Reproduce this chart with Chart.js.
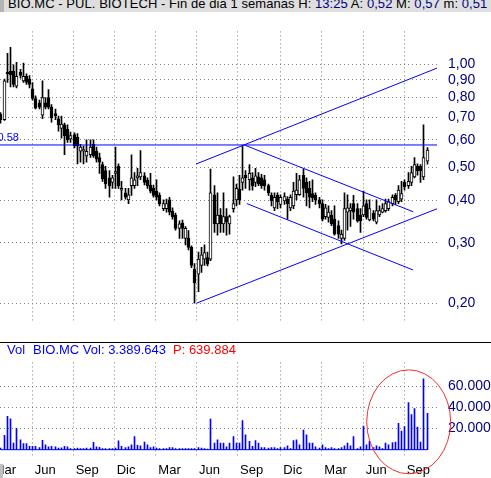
<!DOCTYPE html>
<html>
<head>
<meta charset="utf-8">
<script src="https://cdn.jsdelivr.net/npm/chart.js@4.4.1/dist/chart.umd.min.js"></script>
<style>
  html, body { margin: 0; padding: 0; background: #fff; }
  #wrap { position: relative; width: 491px; height: 478px; overflow: hidden; font-family: "Liberation Sans", Arial, sans-serif; }
  #title { position: absolute; left: 0; top: 0; width: 491px; height: 12px; background: #dedede; overflow: hidden; }
  #title .strip { position: absolute; left: 0; top: 0; width: 4px; height: 12px; background: #b4b4b4; }
  #title .txt { position: absolute; left: 8px; top: -4px; font-size: 13px; line-height: 16px; letter-spacing: 0.06px; color: #000; white-space: pre; }
  #title .v { color: #000080; }
  #price { position: absolute; left: 0; top: 12px; }
  #sep { position: absolute; left: 0; top: 342px; width: 491px; height: 1px; background: #000; }
  #vol { position: absolute; left: 0; top: 343px; }
  #volLabel { position: absolute; left: 0; top: 342px; width: 300px; height: 16px; font-size: 13px; line-height: 15px; white-space: pre; }
  #volLabel span { position: absolute; top: 0; }
  #corner { position: absolute; left: 0; top: 464px; width: 3px; height: 14px; background: #c0c0c0; }
</style>
</head>
<body>
<div id="wrap">
  <div id="title"><div class="strip"></div><div class="txt">BIO.MC - PUL. BIOTECH - Fin de dia 1 semanas H: <span class="v" id="tH"></span> A: <span class="v" id="tA"></span> M: <span class="v" id="tM"></span> m: <span class="v" id="tm"></span></div></div>
  <canvas id="price" width="491" height="330"></canvas>
  <div id="sep"></div>
  <canvas id="vol" width="491" height="135"></canvas>
  <div id="volLabel"><span style="left:7px;color:#0000ff">Vol</span><span style="left:33px;color:#0000ff" id="vName"></span><span style="left:173px;color:#ff0000" id="vP"></span></div>
  <div id="corner"></div>
</div>
<script>
// Weekly candles, BIO.MC (weeks numbered from the first bar)
const open = [
  0.713,0.688,0.948,0.954,0.954,0.862,0.948,0.893,0.920,0.904,
  0.847,0.793,0.770,0.709,0.770,0.798,0.748,0.717,0.692,0.648,
  0.664,0.645,0.604,0.622,0.611,0.556,0.556,0.539,0.543,0.583,
  0.556,0.533,0.508,0.488,0.465,0.451,0.479,0.502,0.428,0.420,
  0.401,0.441,0.441,0.465,0.468,0.471,0.457,0.443,0.433,0.425,
  0.413,0.378,0.378,0.401,0.371,0.362,0.331,0.343,0.309,0.310,
  0.291,0.251,0.243,0.258,0.269,0.272,0.269,0.415,0.341,0.362,
  0.341,0.358,0.341,0.378,0.401,0.430,0.451,0.473,0.459,0.465,
  0.451,0.468,0.465,0.459,0.441,0.413,0.380,0.413,0.389,0.398,
  0.403,0.380,0.385,0.415,0.415,0.473,0.451,0.433,0.418,0.413,
  0.401,0.391,0.358,0.356,0.362,0.352,0.337,0.309,0.309,0.369,
  0.373,0.391,0.378,0.362,0.362,0.391,0.350,0.367,0.345,0.362,
  0.369,0.373,0.378,0.391,0.413,0.396,0.403,0.451,0.441,0.451,
  0.468,0.502,0.502,0.468,0.520
];
const high = [
  0.721,0.904,1.074,1.119,0.994,1.012,0.965,1.006,0.937,0.926,
  0.883,0.808,0.784,0.893,0.798,0.842,0.761,0.739,0.705,0.705,
  0.672,0.664,0.633,0.629,0.626,0.583,0.576,0.600,0.600,0.600,
  0.572,0.549,0.517,0.502,0.488,0.473,0.572,0.511,0.454,0.433,
  0.433,0.543,0.482,0.496,0.559,0.482,0.465,0.479,0.443,0.459,
  0.420,0.401,0.403,0.408,0.380,0.367,0.348,0.350,0.335,0.326,
  0.294,0.261,0.282,0.291,0.296,0.282,0.493,0.441,0.420,0.378,
  0.420,0.378,0.362,0.468,0.446,0.473,0.580,0.488,0.508,0.482,
  0.496,0.482,0.476,0.473,0.446,0.420,0.420,0.420,0.415,0.420,
  0.410,0.415,0.451,0.479,0.473,0.493,0.465,0.454,0.459,0.420,
  0.408,0.401,0.389,0.385,0.373,0.385,0.348,0.327,0.420,0.415,
  0.391,0.413,0.391,0.378,0.425,0.401,0.401,0.373,0.401,0.385,
  0.391,0.403,0.403,0.415,0.418,0.441,0.454,0.459,0.482,0.502,
  0.533,0.511,0.508,0.664,0.570
];
const low = [
  0.672,0.684,0.883,0.857,0.857,0.852,0.909,0.883,0.872,0.852,
  0.784,0.739,0.739,0.692,0.739,0.739,0.676,0.688,0.637,0.607,
  0.543,0.590,0.590,0.569,0.511,0.517,0.511,0.517,0.533,0.533,
  0.517,0.479,0.454,0.433,0.408,0.433,0.433,0.433,0.401,0.403,
  0.391,0.413,0.433,0.441,0.459,0.443,0.433,0.420,0.408,0.401,
  0.385,0.373,0.369,0.362,0.352,0.327,0.309,0.309,0.296,0.286,
  0.254,0.200,0.216,0.246,0.258,0.257,0.266,0.322,0.316,0.322,
  0.322,0.316,0.318,0.369,0.385,0.389,0.428,0.433,0.428,0.428,
  0.438,0.441,0.433,0.428,0.413,0.385,0.373,0.378,0.380,0.389,
  0.352,0.373,0.378,0.401,0.413,0.408,0.385,0.380,0.396,0.389,
  0.380,0.348,0.352,0.345,0.337,0.316,0.309,0.298,0.305,0.327,
  0.335,0.352,0.345,0.322,0.358,0.352,0.348,0.348,0.341,0.358,
  0.367,0.369,0.373,0.385,0.389,0.391,0.396,0.428,0.433,0.441,
  0.465,0.473,0.451,0.459,0.510
];
const close = [
  0.688,0.893,0.937,0.931,0.872,0.920,0.926,0.920,0.883,0.872,
  0.793,0.743,0.748,0.798,0.748,0.748,0.696,0.705,0.664,0.668,
  0.618,0.600,0.618,0.576,0.576,0.572,0.562,0.556,0.572,0.539,
  0.527,0.517,0.462,0.446,0.441,0.465,0.485,0.441,0.433,0.408,
  0.415,0.465,0.459,0.471,0.482,0.451,0.441,0.425,0.413,0.408,
  0.391,0.391,0.391,0.369,0.358,0.331,0.341,0.331,0.331,0.291,
  0.258,0.229,0.269,0.277,0.281,0.260,0.420,0.341,0.362,0.341,
  0.358,0.345,0.358,0.391,0.433,0.401,0.465,0.465,0.479,0.441,
  0.471,0.446,0.441,0.441,0.420,0.398,0.408,0.396,0.408,0.410,
  0.391,0.408,0.425,0.428,0.459,0.433,0.420,0.408,0.406,0.401,
  0.391,0.352,0.380,0.369,0.341,0.318,0.318,0.318,0.378,0.380,
  0.380,0.369,0.348,0.348,0.385,0.356,0.378,0.352,0.373,0.373,
  0.378,0.391,0.396,0.408,0.401,0.428,0.418,0.438,0.454,0.482,
  0.508,0.488,0.488,0.533,0.560
];
const volume = [
  1500,13500,31500,29100,6200,20300,9400,5700,5700,3100,
  3100,3100,2100,8800,4700,2600,3100,2600,1600,1800,
  3100,2600,1000,1000,1600,1000,1000,1600,1600,7000,
  2600,2300,1000,1000,1000,1000,1600,8300,3100,2100,
  2600,4700,12500,4200,3600,7300,4700,2100,2600,1600,
  1000,1000,1000,2100,2100,1000,1000,1000,1000,1000,
  1000,1000,2100,1600,1000,600,28900,6200,9400,6200,
  6200,2600,6200,12500,6200,6200,27600,14000,7800,3100,
  8600,6200,2100,2100,1600,2100,2100,1000,2100,2100,
  3600,1000,8600,9400,4700,18500,14000,6200,6200,2600,
  1600,4700,2100,1000,2100,1000,1000,2100,3600,6200,
  3600,12500,1000,2600,22400,4700,7800,2100,3600,2600,
  1000,6200,4700,6800,7300,25000,17700,21800,44500,33300,
  39000,21300,7300,67100,34300
];

// Calendar: quarter starts expressed in weeks, with their month names
const quarterWeeks  = [-3.1, 9.8, 22.7, 35.6, 48.7, 61.5, 74.4, 88.0, 100.9, 113.9, 126.8];
const quarterLabels = ['Mar','Jun','Sep','Dic','Mar','Jun','Sep','Dic','Mar','Jun','Sep'];

// Axis ticks
const priceTicks = [0.2, 0.3, 0.4, 0.5, 0.6, 0.7, 0.8, 0.9, 1.0];
const volumeTicks = [20000, 40000, 60000];

// Drawn studies: [week, price] end points
const resistance   = 0.58;
const channelUpper = [[61.3, 0.510], [137.1, 0.973]];
const channelLower = [[61.5, 0.200], [137.1, 0.3775]];
const wedgeUpper   = [[76.5, 0.580], [129.6, 0.370]];
const wedgeLower   = [[77.3, 0.391], [129.6, 0.250]];

// Highlight ring on the volume pane: week span and volume span
const ringWeeks  = [115.0, 141.4];
const ringVolume = [-22800, 75500];

// Header texts
const quoteTime = '13:25';
const volName = 'BIO.MC Vol: 3.389.643';
const volP = 'P: 639.884';

const N = open.length;
const weeks = open.map((_, i) => i);
const xMin = -0.31, xMax = 137.1;
const priceMin = 0.17547, priceMax = 1.2458;
const volMin = -7864, volMax = 82566;

const fmtPrice = v => v.toFixed(2).replace('.', ',');
const fmtVol = v => String(Math.round(v)).replace(/\B(?=(\d{3})+(?!\d))/g, '.');

const last = N - 1;
document.getElementById('tH').textContent = quoteTime;
document.getElementById('tA').textContent = fmtPrice(open[last]);
document.getElementById('tM').textContent = fmtPrice(high[last]);
document.getElementById('tm').textContent = fmtPrice(low[last]);
document.getElementById('vName').textContent = volName;
document.getElementById('vP').textContent = volP;

Chart.defaults.font.family = '"Liberation Sans", Arial, sans-serif';

const GRID = '#808080';
const BLUE = '#0000ff';

const segment = (pts) => ({
  type: 'line',
  data: pts.map(([x, y]) => ({ x, y })),
  borderColor: BLUE,
  borderWidth: 1,
  pointRadius: 0,
  tension: 0,
  fill: false,
  order: 0
});

const quarterAxis = (showLabels) => ({
  type: 'linear',
  min: xMin,
  max: xMax,
  offset: false,
  grid: { color: GRID, drawTicks: false, offset: false },
  border: { display: false, dash: [1, 3] },
  afterBuildTicks: s => { s.ticks = quarterWeeks.map(v => ({ value: v })); },
  ticks: {
    display: showLabels,
    autoSkip: false,
    maxRotation: 0,
    align: 'start',
    labelOffset: 2.5,
    padding: 5,
    color: '#000',
    font: { size: 13 },
    callback: (v, i) => quarterLabels[i]
  },
  afterFit: s => {
    // keep the plot flush with the canvas edges; labels may run past them
    s.height = showLabels ? 20 : 0;
    s.paddingLeft = 0;
    s.paddingRight = 0;
  }
});

// Put thin bars on whole pixel columns so candles and volume stay sharp
const crispBars = {
  id: 'crispBars',
  beforeDatasetsDraw(chart) {
    chart.data.datasets.forEach((ds, di) => {
      const meta = chart.getDatasetMeta(di);
      if (meta.type !== 'bar') return;
      meta.data.forEach(el => { el.x = Math.floor(el.x) + 0.5; });
    });
  }
};

// Label for the horizontal resistance line
const levelLabel = {
  id: 'levelLabel',
  afterDatasetsDraw(chart) {
    const { ctx, chartArea, scales } = chart;
    const y = scales.y.getPixelForValue(resistance);
    ctx.save();
    ctx.font = '11px "Liberation Sans", Arial, sans-serif';
    ctx.fillStyle = BLUE;
    ctx.textAlign = 'left';
    ctx.textBaseline = 'alphabetic';
    ctx.fillText(resistance.toFixed(2), chartArea.left - 2.5, y - 4);
    ctx.restore();
  }
};

new Chart(document.getElementById('price'), {
  type: 'bar',
  data: {
    datasets: [
      segment(channelUpper),
      segment(channelLower),
      segment(wedgeUpper),
      segment(wedgeLower),
      segment([[xMin, resistance], [xMax, resistance]]),
      {
        label: 'cuerpo',
        data: weeks.map(i => ({ x: i, y: [open[i], close[i]] })),
        backgroundColor: weeks.map(i => close[i] >= open[i] ? '#ffffff' : '#000000'),
        borderColor: '#000000',
        borderWidth: 1,
        borderSkipped: false,
        barThickness: 3,
        grouped: false,
        order: 1
      },
      {
        label: 'mecha',
        data: weeks.map(i => ({ x: i, y: [low[i], high[i]] })),
        backgroundColor: '#000000',
        borderWidth: 0,
        barThickness: 1,
        grouped: false,
        order: 2
      }
    ]
  },
  options: {
    responsive: false,
    animation: false,
    layout: { padding: 0 },
    plugins: { legend: { display: false }, tooltip: { enabled: false } },
    scales: {
      x: quarterAxis(false),
      y: {
        type: 'logarithmic',
        position: 'right',
        min: priceMin,
        max: priceMax,
        grid: { color: GRID, drawTicks: false },
        border: { display: false, dash: [1, 3] },
        afterBuildTicks: s => { s.ticks = priceTicks.map(v => ({ value: v })); },
        ticks: { padding: 11, color: '#000080', font: { size: 14 }, callback: v => fmtPrice(v) },
        afterFit: s => { s.width = 54; }
      }
    }
  },
  plugins: [crispBars, levelLabel]
});

// Red ring drawn around the recent volume burst
const ring = {
  id: 'ring',
  afterDraw(chart) {
    const { ctx, scales } = chart;
    const x0 = scales.x.getPixelForValue(ringWeeks[0]);
    const x1 = scales.x.getPixelForValue(ringWeeks[1]);
    const y0 = scales.y.getPixelForValue(ringVolume[1]);
    const y1 = scales.y.getPixelForValue(ringVolume[0]);
    ctx.save();
    ctx.strokeStyle = '#f03030';
    ctx.lineWidth = 1;
    ctx.beginPath();
    ctx.ellipse((x0 + x1) / 2, (y0 + y1) / 2, (x1 - x0) / 2, (y1 - y0) / 2, 0, 0, Math.PI * 2);
    ctx.stroke();
    ctx.restore();
  }
};

new Chart(document.getElementById('vol'), {
  type: 'bar',
  data: {
    datasets: [
      {
        type: 'line',
        data: [{ x: 0, y: 0 }, { x: last, y: 0 }],
        borderColor: BLUE,
        borderWidth: 1,
        pointRadius: 0,
        order: 0
      },
      {
        label: 'Vol',
        data: weeks.map(i => ({ x: i, y: volume[i] })),
        backgroundColor: BLUE,
        borderWidth: 0,
        barThickness: 1,
        grouped: false,
        order: 1
      }
    ]
  },
  options: {
    responsive: false,
    animation: false,
    layout: { padding: 0 },
    plugins: { legend: { display: false }, tooltip: { enabled: false } },
    scales: {
      x: quarterAxis(true),
      y: {
        type: 'linear',
        position: 'right',
        min: volMin,
        max: volMax,
        grid: { color: GRID, drawTicks: false },
        border: { display: false, dash: [1, 3] },
        afterBuildTicks: s => { s.ticks = volumeTicks.map(v => ({ value: v })); },
        ticks: { padding: 11, color: '#000080', font: { size: 14 }, callback: v => fmtVol(v) },
        afterFit: s => { s.width = 54; }
      }
    }
  },
  plugins: [crispBars, ring]
});
</script>
</body>
</html>
